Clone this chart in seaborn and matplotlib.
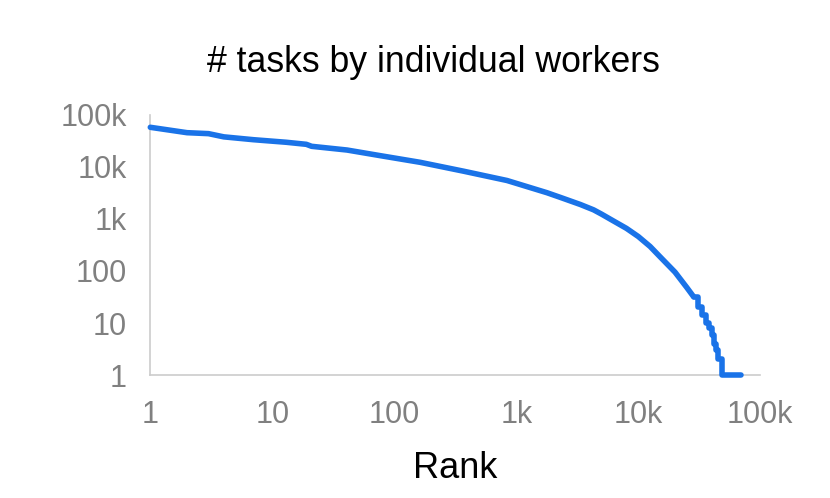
import numpy as np
import matplotlib
matplotlib.use('Agg')
import matplotlib.pyplot as plt
import matplotlib.ticker as mticker
import seaborn as sns

# tasks per worker
rank = [1, 2, 3, 4, 7, 13, 19, 21, 41, 77, 163, 370, 839, 1785, 2300, 3350,
        4300, 5000, 6000, 8000, 10000, 12500, 15000, 20000, 25000, 28400]
tasks = [58000, 45700, 43800, 38000, 33500, 29900, 27300, 25000, 21200, 16500,
         12300, 8300, 5500, 3200, 2600, 1900, 1500, 1240, 970, 660, 460, 296,
         190, 95, 48, 32]

# long tail where counts become small integers
tail_rank = [28400, 31000, 33500, 36000, 38000, 40000, 41500, 43000, 44700, 48900, 70000]
tail_tasks = [32, 20, 14, 10, 8, 6, 4, 3, 2, 1, 1]

tick_vals = [1, 10, 100, 1000, 10000, 100000]
tick_names = ['1', '10', '100', '1k', '10k', '100k']

sns.set_style('white')
plt.rcParams['font.family'] = ['Liberation Sans', 'DejaVu Sans']

blue = '#1a73e8'
grey = '#808080'
fig = plt.figure(figsize=(8.3, 4.98), dpi=100)
ax = fig.add_axes([150.3 / 830, 1 - 375 / 498, 610 / 830, 260 / 498])

sns.lineplot(x=rank, y=tasks, ax=ax, color=blue, linewidth=4,
             estimator=None, sort=False, clip_on=False, zorder=5)
sns.lineplot(x=tail_rank, y=tail_tasks, ax=ax, color=blue, linewidth=4,
             estimator=None, sort=False, drawstyle='steps-post', clip_on=False,
             zorder=5)

ax.set_xscale('log')
ax.set_yscale('log')
ax.set_xlim(1, 100000)
ax.set_ylim(1, 100000)

names = dict(zip(tick_vals, tick_names))
fmt = mticker.FuncFormatter(lambda v, p: names.get(int(round(v)), ''))
for axis in (ax.xaxis, ax.yaxis):
    axis.set_major_locator(mticker.FixedLocator(tick_vals))
    axis.set_major_formatter(fmt)
    axis.set_minor_locator(mticker.LogLocator(base=10, subs=(2, 5, 8), numticks=20))
    axis.set_minor_formatter(mticker.NullFormatter())

ax.tick_params(which='major', direction='in', length=3, width=1, color='#cccccc',
               labelsize=22, labelcolor=grey)
ax.tick_params(axis='x', which='major', pad=18)
ax.tick_params(axis='y', which='major', pad=17)
ax.tick_params(which='minor', direction='in', length=1.5, width=1, color='#cccccc')

sns.despine(ax=ax)
for s in ('left', 'bottom'):
    ax.spines[s].set_color('#cccccc')
    ax.spines[s].set_linewidth(1.2)
ax.set_xlabel('')
ax.set_ylabel('')

fig.text(433 / 830, 1 - 72 / 498, '# tasks by individual workers', ha='center',
         va='baseline', fontsize=25.7, color='black')
fig.text(455 / 830, 1 - 478 / 498, 'Rank', ha='center', va='baseline',
         fontsize=26, color='black')

fig.savefig('out.png', dpi=100)
